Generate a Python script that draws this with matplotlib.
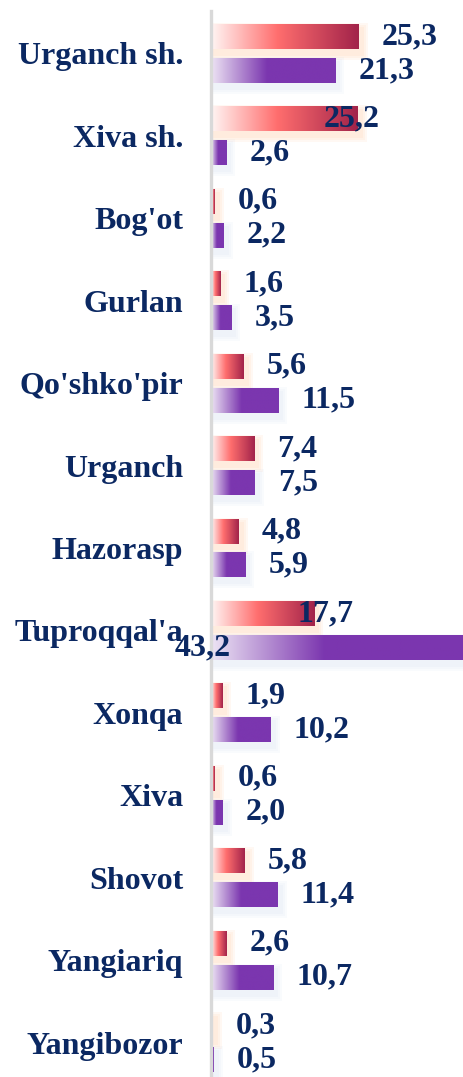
import numpy as np
import matplotlib
matplotlib.use("Agg")
import matplotlib.pyplot as plt
from matplotlib.colors import LinearSegmentedColormap
from matplotlib.patches import Rectangle

# chart data
districts = ["Urganch sh.", "Xiva sh.", "Bog'ot", "Gurlan", "Qo'shko'pir", "Urganch",
             "Hazorasp", "Tuproqqal'a", "Xonqa", "Xiva", "Shovot", "Yangiariq", "Yangibozor"]
series_red = [25.3, 25.2, 0.6, 1.6, 5.6, 7.4, 4.8, 17.7, 1.9, 0.6, 5.8, 2.6, 0.3]
series_purple = [21.3, 2.6, 2.2, 3.5, 11.5, 7.5, 5.9, 43.2, 10.2, 2.0, 11.4, 10.7, 0.5]

NAVY = "#0b2862"
FONT = "Liberation Serif"

red_cmap = LinearSegmentedColormap.from_list(
    "red_grad", [(0, "#fff6f4"), (0.45, "#ff6e6e"), (1, "#a2234a")])
purple_cmap = LinearSegmentedColormap.from_list(
    "purple_grad", [(0, "#ede4f4"), (0.45, "#7b36af"), (1, "#7b36af")])

W, H = 463, 1077
fig = plt.figure(figsize=(W / 100, H / 100), dpi=100)
ax = fig.add_axes([211 / W, 0, 1 - 211 / W, 1 - 11 / H])

xmax = max(series_purple)
px_x = xmax / (W - 211)   # one pixel in data units
px_y = 1 / 82.5

n = len(districts)
y = np.arange(n)
bar_h = 25 * px_y
off = 17 * px_y

# odd label placements in the original
label_nudge = {(1, 0): -57, (7, 0): -40, (7, 1): -311}

grad = np.linspace(0, 1, 256).reshape(1, -1)

for j, (vals, cmap, shadow) in enumerate([(series_red, red_cmap, "#ffa860"),
                                          (series_purple, purple_cmap, "#b8c8e6")]):
    ypos = y - off if j == 0 else y + off
    bars = ax.barh(ypos, vals, height=bar_h, color="none", edgecolor="none", zorder=3)
    for i, (b, v) in enumerate(zip(bars, vals)):
        x0, y0 = b.get_x(), b.get_y()
        w, h = b.get_width(), b.get_height()
        # soft glow shadow, shifted down and right
        for s in [6, 4, 2]:
            ax.add_patch(Rectangle((x0 + 3 * px_x - s * px_x, y0 + 5 * px_y - s * px_y),
                                   w + 2 * s * px_x, h + 2 * s * px_y,
                                   facecolor=shadow, edgecolor="none", alpha=0.07, zorder=1))
        im = ax.imshow(grad, cmap=cmap, extent=[x0, x0 + w, y0 + h, y0],
                       aspect="auto", interpolation="bilinear", zorder=3)
        im.set_clip_path(b)
        ax.annotate(f"{v:.1f}".replace(".", ","), xy=(v, ypos[i]),
                    xytext=(23 + label_nudge.get((i, j), 0), 0), textcoords="offset pixels",
                    ha="left", va="center", fontsize=23, fontweight="bold",
                    color=NAVY, family=FONT, annotation_clip=False, zorder=5)

ax.set_xlim(0, xmax)
ax.set_ylim(n - 1 + 0.418, -0.515)
ax.set_yticks(y)
ax.set_yticklabels(districts, fontsize=23, fontweight="bold", color=NAVY, family=FONT)
ax.tick_params(axis="y", length=0, pad=20)
ax.set_xticks([])
for side in ["top", "right", "bottom"]:
    ax.spines[side].set_visible(False)
ax.spines["left"].set_color("#d9d9d9")
ax.spines["left"].set_linewidth(2.4)
ax.spines["left"].set_zorder(4)

fig.savefig("out.png", dpi=100)
